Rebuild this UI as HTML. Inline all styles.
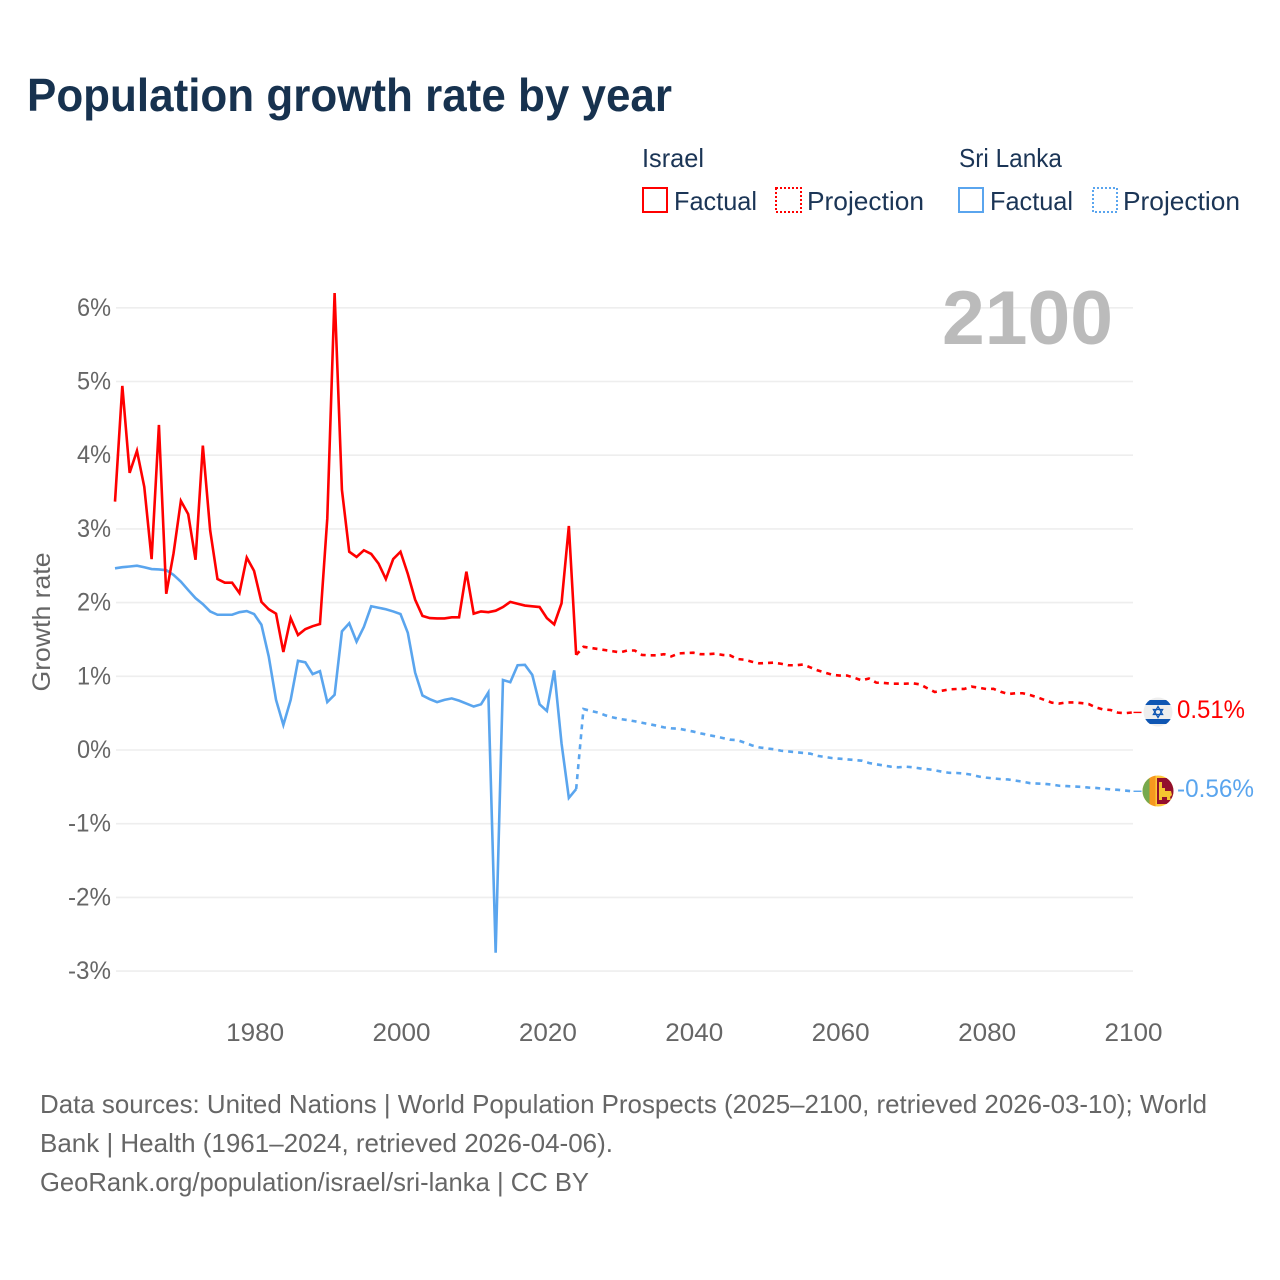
<!DOCTYPE html>
<html lang="en">
<head>
<meta charset="utf-8">
<title>Population growth rate by year</title>
<style>
html,body{margin:0;padding:0;background:#fff;width:1280px;height:1280px;overflow:hidden}
svg{display:block;font-family:"Liberation Sans",sans-serif}
</style>
</head>
<body>
<svg id="chart" xmlns="http://www.w3.org/2000/svg" width="1280" height="1280" viewBox="0 0 1280 1280">
  <rect x="0" y="0" width="1280" height="1280" fill="#fff"/>
  <text x="27" y="111" font-size="46" font-weight="700" fill="#17324f" textLength="645" lengthAdjust="spacingAndGlyphs">Population growth rate by year</text>

  <g font-size="26" fill="#1b3556">
    <text x="642" y="167" textLength="62" lengthAdjust="spacingAndGlyphs">Israel</text>
    <text x="959" y="167" textLength="103" lengthAdjust="spacingAndGlyphs">Sri Lanka</text>
    <rect x="643" y="188" width="24" height="24" fill="none" stroke="#ff0000" stroke-width="2"/>
    <text x="674" y="210" textLength="83" lengthAdjust="spacingAndGlyphs">Factual</text>
    <rect x="776" y="188" width="25" height="24" fill="none" stroke="#ff0000" stroke-width="2" stroke-dasharray="2 2"/>
    <text x="807" y="210" textLength="117" lengthAdjust="spacingAndGlyphs">Projection</text>
    <rect x="959" y="188" width="24" height="24" fill="none" stroke="#5aa5ee" stroke-width="2"/>
    <text x="990" y="210" textLength="83" lengthAdjust="spacingAndGlyphs">Factual</text>
    <rect x="1093" y="188" width="24" height="24" fill="none" stroke="#5aa5ee" stroke-width="2" stroke-dasharray="2 2"/>
    <text x="1123" y="210" textLength="117" lengthAdjust="spacingAndGlyphs">Projection</text>
  </g>

  <g id="grid"></g>
  <g id="yticks" font-size="25" fill="#666"></g>
  <g id="xticks" font-size="25" fill="#666"></g>

  <text transform="translate(50 622) rotate(-90)" text-anchor="middle" font-size="25" fill="#666" textLength="139" lengthAdjust="spacingAndGlyphs">Growth rate</text>
  <text x="1113" y="344" text-anchor="end" font-size="76" font-weight="700" fill="#bbbbbb" textLength="171" lengthAdjust="spacingAndGlyphs">2100</text>

  <g id="series"></g>

  <defs>
    <clipPath id="clip-il"><circle cx="1158" cy="712" r="14.5"/></clipPath>
    <clipPath id="clip-lk"><circle cx="1158" cy="791" r="15.5"/></clipPath>
  </defs>
  <g clip-path="url(#clip-il)">
    <rect x="1143" y="697" width="30" height="30" fill="#eeeeee"/>
    <rect x="1143" y="700" width="30" height="5" fill="#0f56b3"/>
    <rect x="1143" y="719" width="30" height="5" fill="#0f56b3"/>
    <polygon points="1158,706.5 1162.6,714.5 1153.4,714.5" fill="none" stroke="#0f56b3" stroke-width="1.3"/>
    <polygon points="1158,717.5 1162.6,709.5 1153.4,709.5" fill="none" stroke="#0f56b3" stroke-width="1.3"/>
  </g>
  <g clip-path="url(#clip-lk)">
    <rect x="1142" y="775" width="32" height="32" fill="#ffc83a"/>
    <rect x="1142" y="775" width="7.5" height="32" fill="#76a94e"/>
    <rect x="1149.5" y="775" width="6" height="32" fill="#f6981f"/>
    <rect x="1157" y="778" width="17" height="26" fill="#930f2d"/>
    <polygon points="1159,782 1162,782 1162,788 1165,788 1165,791 1171,791 1172,795 1170,797 1171,800 1167,800 1167,797 1162,797 1162,800 1159,800" fill="#f4c430"/>
  </g>

  <g id="endlabels" font-size="25"></g>

  <g font-size="26" fill="#666">
    <text x="40" y="1113" textLength="1167" lengthAdjust="spacingAndGlyphs">Data sources: United Nations | World Population Prospects (2025–2100, retrieved 2026-03-10); World</text>
    <text x="40" y="1152" textLength="573" lengthAdjust="spacingAndGlyphs">Bank | Health (1961–2024, retrieved 2026-04-06).</text>
    <text x="40" y="1191" textLength="549" lengthAdjust="spacingAndGlyphs">GeoRank.org/population/israel/sri-lanka | CC BY</text>
  </g>
</svg>

<script>
const yTickValues = [6, 5, 4, 3, 2, 1, 0, -1, -2, -3];
const yTickLabels = ["6%", "5%", "4%", "3%", "2%", "1%", "0%", "-1%", "-2%", "-3%"];
const xTickYears = [1980, 2000, 2020, 2040, 2060, 2080, 2100];
const factualStartYear = 1961;
const projectionStartYear = 2025;
const israelFactual = [
  3.37, 4.94, 3.76, 4.06, 3.57, 2.59, 4.41, 2.12, 2.67, 3.38,
  3.20, 2.58, 4.13, 2.98, 2.32, 2.27, 2.27, 2.13, 2.61, 2.43,
  2.01, 1.91, 1.85, 1.33, 1.79, 1.56, 1.64, 1.68, 1.71, 3.14,
  6.20, 3.53, 2.69, 2.62, 2.71, 2.66, 2.53, 2.32, 2.59, 2.69,
  2.39, 2.04, 1.82, 1.79, 1.785, 1.785, 1.80, 1.80, 2.42, 1.85,
  1.88, 1.87, 1.89, 1.94, 2.01, 1.985, 1.96, 1.95, 1.94, 1.79,
  1.705, 1.99, 3.04, 1.29
];
const israelProjection = [
  1.40, 1.385, 1.37, 1.355, 1.34, 1.325, 1.35, 1.35, 1.29, 1.285,
  1.285, 1.30, 1.27, 1.31, 1.316, 1.32, 1.30, 1.30, 1.307, 1.29,
  1.285, 1.235, 1.225, 1.198, 1.176, 1.18, 1.185, 1.17, 1.15, 1.15,
  1.16, 1.12, 1.08, 1.05, 1.02, 1.01, 1.01, 0.98, 0.945, 0.97,
  0.914, 0.91, 0.90, 0.90, 0.90, 0.905, 0.89, 0.836, 0.787, 0.805,
  0.823, 0.828, 0.828, 0.86, 0.845, 0.828, 0.83, 0.79, 0.76, 0.77,
  0.77, 0.746, 0.715, 0.678, 0.642, 0.63, 0.646, 0.646, 0.637, 0.624,
  0.578, 0.55, 0.543, 0.507, 0.50, 0.51
];
const sriLankaFactual = [
  2.465, 2.48, 2.49, 2.50, 2.48, 2.455, 2.45, 2.44, 2.375, 2.285,
  2.17, 2.06, 1.98, 1.88, 1.835, 1.835, 1.835, 1.87, 1.885, 1.845,
  1.70, 1.27, 0.68, 0.34, 0.68, 1.21, 1.19, 1.03, 1.07, 0.65,
  0.75, 1.61, 1.72, 1.47, 1.67, 1.95, 1.93, 1.91, 1.88, 1.845,
  1.59, 1.05, 0.74, 0.69, 0.65, 0.68, 0.70, 0.67, 0.63, 0.59,
  0.62, 0.78, -2.75, 0.95, 0.92, 1.15, 1.155, 1.02, 0.62, 0.53,
  1.08, 0.09, -0.65, -0.53
];
const sriLankaProjection = [
  0.556, 0.53, 0.507, 0.47, 0.443, 0.42, 0.407, 0.39, 0.37, 0.35,
  0.33, 0.307, 0.294, 0.29, 0.27, 0.25, 0.226, 0.205, 0.185, 0.163,
  0.14, 0.135, 0.10, 0.063, 0.036, 0.022, 0.01, -0.01, -0.02, -0.03,
  -0.04, -0.05, -0.08, -0.095, -0.11, -0.118, -0.127, -0.136, -0.145, -0.176,
  -0.195, -0.21, -0.226, -0.235, -0.226, -0.235, -0.25, -0.26, -0.275, -0.295,
  -0.31, -0.312, -0.32, -0.335, -0.36, -0.375, -0.385, -0.395, -0.40, -0.415,
  -0.43, -0.45, -0.455, -0.46, -0.47, -0.485, -0.49, -0.495, -0.50, -0.51,
  -0.515, -0.525, -0.535, -0.54, -0.55, -0.56
];

const RED = "#ff0000";
const BLUE = "#5aa5ee";
const SVG_NS = "http://www.w3.org/2000/svg";
const gridLeft = 116;
const gridRight = 1133;
const plotLeft = 115;
const plotRight = 1132.5;
const yearMin = 1961;
const yearMax = 2100;
const zeroY = 750;
const pxPerPercent = 73.7;

function xScale(year) {
  return plotLeft + (year - yearMin) * (plotRight - plotLeft) / (yearMax - yearMin);
}
function yScale(value) {
  return zeroY - value * pxPerPercent;
}
function make(tag, attrs) {
  const el = document.createElementNS(SVG_NS, tag);
  for (const key in attrs) el.setAttribute(key, attrs[key]);
  return el;
}
function seriesPoints(values, startYear) {
  return values.map(function (v, i) {
    return xScale(startYear + i).toFixed(2) + "," + yScale(v).toFixed(2);
  });
}

const gridGroup = document.getElementById("grid");
const yTickGroup = document.getElementById("yticks");
yTickValues.forEach(function (v, i) {
  const line = make("line", { x1: gridLeft, x2: gridRight, y1: yScale(v), y2: yScale(v), stroke: "#eeeeee", "stroke-width": 1.6 });
  
  
  gridGroup.appendChild(line);
  const label = make("text", { x: 111, y: yScale(v) + 8, "text-anchor": "end", textLength: yTickLabels[i].length === 2 ? 34 : 43, lengthAdjust: "spacingAndGlyphs" });
  
  
  label.textContent = yTickLabels[i];
  yTickGroup.appendChild(label);
});

const xTickGroup = document.getElementById("xticks");
xTickYears.forEach(function (year) {
  const label = make("text", { x: xScale(year) + 1, y: 1041, "text-anchor": "middle", textLength: 58, lengthAdjust: "spacingAndGlyphs" });
  
  
  label.textContent = String(year);
  xTickGroup.appendChild(label);
});

const seriesGroup = document.getElementById("series");

function drawLine(points, color, dashed, nameValue) {
  const line = make("polyline", {
    points: points.join(" "),
    fill: "none",
    stroke: color,
    "stroke-width": 2.6,
    "stroke-linejoin": "miter"
  });
  if (dashed) line.setAttribute("stroke-dasharray", "5 5");
  
  
  seriesGroup.appendChild(line);
}

const israelFactualPts = seriesPoints(israelFactual, factualStartYear);
const sriLankaFactualPts = seriesPoints(sriLankaFactual, factualStartYear);
const israelProjectionPts = seriesPoints(israelProjection, projectionStartYear);
const sriLankaProjectionPts = seriesPoints(sriLankaProjection, projectionStartYear);

drawLine(sriLankaFactualPts, BLUE, false, 'sri-lanka-factual-line');
drawLine(israelFactualPts, RED, false, 'israel-factual-line');
drawLine([sriLankaFactualPts[sriLankaFactualPts.length - 1]].concat(sriLankaProjectionPts), BLUE, true, 'sri-lanka-projection-line');
drawLine([israelFactualPts[israelFactualPts.length - 1]].concat(israelProjectionPts), RED, true, 'israel-projection-line');

const endGroup = document.getElementById("endlabels");
function drawEnd(values, color, textWidth, connectorName, labelName) {
  const last = values[values.length - 1];
  const y = yScale(last);
  const connector = make("line", { x1: xScale(yearMax) + 1, x2: xScale(yearMax) + 9, y1: y, y2: y, stroke: color, "stroke-width": 1.4 });
  
  
  endGroup.appendChild(connector);
  const label = make("text", { x: 1177, y: y + 5.5, fill: color, textLength: textWidth, lengthAdjust: "spacingAndGlyphs" });
  
  
  label.textContent = last.toFixed(2) + "%";
  endGroup.appendChild(label);
}
drawEnd(israelProjection, RED, 68, 'israel-end-connector', 'israel-end-value');
drawEnd(sriLankaProjection, BLUE, 77, 'sri-lanka-end-connector', 'sri-lanka-end-value');
</script>
</body>
</html>
